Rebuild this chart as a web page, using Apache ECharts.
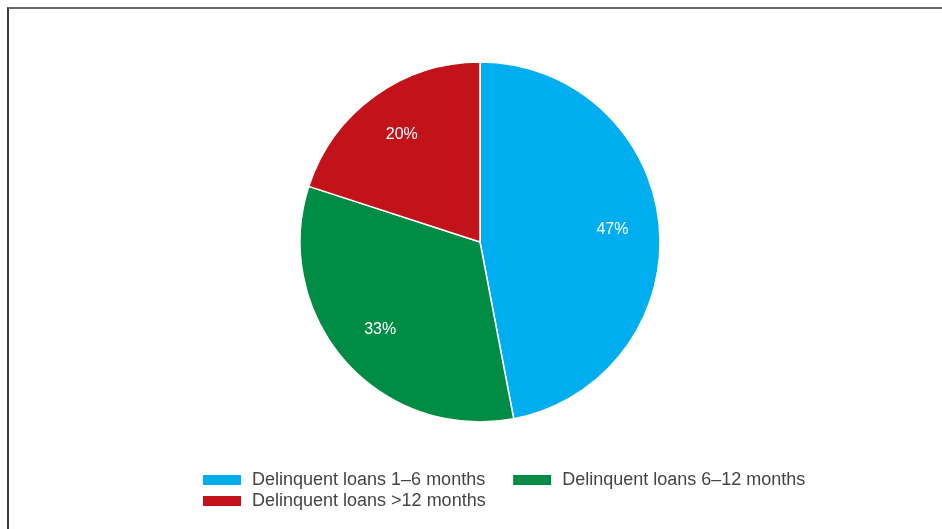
<!DOCTYPE html>
<html>
<head>
<meta charset="utf-8">
<script src="https://cdn.jsdelivr.net/npm/echarts@6/dist/echarts.min.js"></script>
<style>
  html, body { margin: 0; padding: 0; background: #fff; }
  #wrap { position: relative; width: 942px; height: 529px; overflow: hidden; }
  #frame { position: absolute; left: 7px; top: 7px; right: 0; bottom: 0;
           border-top: 2px solid #6a6a6a; border-left: 2px solid #3a3a3a; }
  #chart { position: absolute; left: 0; top: 0; width: 942px; height: 529px; }
</style>
</head>
<body>
<div id="wrap">
  <div id="frame"></div>
  <div id="chart"></div>
</div>
<script>
// Share of delinquent loans by length of delinquency
const categories = [
  'Delinquent loans 1–6 months',
  'Delinquent loans 6–12 months',
  'Delinquent loans >12 months'
];
const shares = [47, 33, 20];
const colors = ['#00aeef', '#008c44', '#c3131a'];

const FONT = '"Liberation Sans", Arial, Helvetica, sans-serif';

const pieData = categories.map((name, i) => ({
  name,
  value: shares[i],
  itemStyle: { color: colors[i] }
}));

const legendBase = {
  orient: 'horizontal',
  icon: 'rect',
  itemWidth: 40,
  itemHeight: 12,
  itemGap: 26,
  padding: 0,
  left: 201,
  selectedMode: false,
  textStyle: {
    fontFamily: FONT,
    fontSize: 18,
    color: '#444444',
    lineHeight: 20,
    padding: [0, 0, 0, 5]
  }
};

const chart = echarts.init(document.getElementById('chart'), null, { renderer: 'canvas' });
chart.setOption({
  backgroundColor: 'transparent',
  animation: false,
  color: colors,
  legend: [
    Object.assign({}, legendBase, { top: 470, data: [categories[0], categories[1]] }),
    Object.assign({}, legendBase, { top: 491, data: [categories[2]] })
  ],
  series: [
    {
      name: 'Delinquent loans',
      type: 'pie',
      center: [480, 242],
      radius: [0, 180],
      startAngle: 90,
      clockwise: true,
      avoidLabelOverlap: false,
      label: { show: false },
      labelLine: { show: false },
      itemStyle: { borderColor: '#ffffff', borderWidth: 1.5 },
      emphasis: { disabled: true },
      data: pieData
    },
    {
      // transparent ring used only to place the percentage labels
      name: 'labels',
      type: 'pie',
      center: [480, 242],
      radius: [0, 260],
      startAngle: 90,
      clockwise: true,
      silent: true,
      legendHoverLink: false,
      avoidLabelOverlap: false,
      itemStyle: { color: 'rgba(0,0,0,0)', borderWidth: 0 },
      label: {
        show: true,
        position: 'inside',
        formatter: '{c}%',
        color: '#ffffff',
        fontFamily: FONT,
        fontSize: 16
      },
      labelLine: { show: false },
      emphasis: { disabled: true },
      data: categories.map((name, i) => ({ name: name + ' ', value: shares[i] }))
    }
  ]
});
</script>
</body>
</html>
